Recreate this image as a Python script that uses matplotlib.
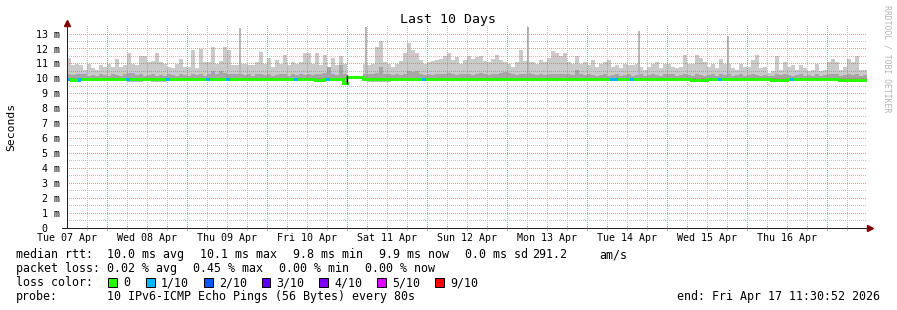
import numpy as np
import matplotlib
matplotlib.use('Agg')
import matplotlib.pyplot as plt
import matplotlib.transforms as mtransforms
from matplotlib.collections import LineCollection
from matplotlib.patches import Rectangle

# smokeping columns, 200 columns over 10 days (values in ms)
rtt_max = [
    11.4, 10.9, 11.0, 10.9, 10.6, 11.0, 10.7, 10.6, 10.9, 10.8, 11.0, 10.8, 11.3, 10.8, 10.9, 11.75, 11.0, 10.9, 11.5, 11.55,
    11.1, 11.2, 11.7, 11.1, 11.0, 10.8, 10.7, 11.0, 11.3, 10.8, 10.8, 11.9, 10.7, 12.0, 11.1, 11.1, 12.1, 11.0, 11.2, 12.1,
    11.9, 10.9, 10.9, 11.0, 11.0, 10.9, 10.9, 11.15, 11.8, 11.0, 11.4, 10.8, 11.25, 11.0, 11.6, 10.9, 11.15, 11.0, 11.15, 11.7,
    11.75, 11.0, 11.7, 10.9, 11.6, 10.8, 11.4, 10.9, 11.5, 11.0, np.nan, np.nan, np.nan, np.nan, 11.0, 10.9, 11.0, 12.15, 12.5, 11.15,
    11.0, 10.8, 11.0, 11.2, 11.7, 12.4, 11.9, 11.7, 11.25, 11.0, 11.15, 11.2, 11.25, 11.35, 11.5, 11.7, 11.25, 11.45, 11.0, 11.25,
    11.5, 11.35, 11.45, 11.5, 11.2, 11.15, 11.3, 11.6, 11.25, 11.1, 11.0, 10.8, 11.1, 11.9, 11.2, 11.1, 11.15, 11.0, 11.25, 11.15,
    11.4, 11.85, 11.75, 11.5, 11.7, 11.1, 11.0, 11.5, 11.0, 11.15, 10.9, 11.25, 10.8, 11.0, 11.15, 11.25, 10.8, 10.9, 10.7, 11.0,
    10.9, 10.9, 11.0, 10.8, 10.6, 10.8, 11.0, 11.15, 10.7, 11.0, 11.0, 10.8, 10.7, 10.8, 11.6, 11.0, 11.0, 11.6, 11.4, 11.1,
    10.8, 11.0, 10.7, 11.35, 11.0, 11.0, 10.7, 10.6, 11.0, 10.8, 10.8, 11.25, 11.6, 10.7, 10.8, 10.4, 10.5, 11.5, 10.6, 11.15,
    10.8, 10.9, 10.6, 10.9, 10.7, 10.5, 10.6, 11.0, 10.5, 10.6, 11.15, 11.35, 11.1, 10.6, 10.8, 11.3, 11.15, 11.5, 10.6, 10.6,
]
rtt_inner = [
    10.3, 10.25, 10.3, 10.35, 10.3, 10.2, 10.25, 10.2, 10.3, 10.25, 10.2, 10.3, 10.25, 10.2, 10.3, 10.4, 10.4, 10.25, 10.3, 10.2,
    10.25, 10.3, 10.2, 10.25, 10.2, 10.3, 10.25, 10.2, 10.3, 10.25, 10.2, 10.3, 10.25, 10.35, 10.2, 10.3, 10.5, 10.3, 10.55, 10.4,
    10.35, 10.3, 10.35, 10.3, 10.25, 10.3, 10.2, 10.3, 10.35, 10.25, 10.3, 10.2, 10.25, 10.3, 10.35, 10.2, 10.3, 10.25, 10.3, 10.25,
    10.3, 10.25, 10.35, 10.3, 10.4, 10.8, 10.3, 10.25, 10.9, 10.3, np.nan, np.nan, np.nan, np.nan, 10.3, 10.35, 10.3, 10.4, 10.8, 10.35,
    10.3, 10.25, 10.3, 10.25, 10.35, 10.5, 10.45, 10.5, 10.3, 10.25, 10.3, 10.25, 10.3, 10.35, 10.3, 10.4, 10.3, 10.25, 10.3, 10.35,
    10.3, 10.25, 10.3, 10.4, 10.3, 10.25, 10.3, 10.35, 10.4, 10.45, 10.4, 10.3, 10.25, 10.35, 10.3, 10.4, 10.3, 10.25, 10.3, 10.25,
    10.35, 10.35, 10.3, 10.35, 10.3, 10.3, 10.25, 10.6, 10.3, 10.25, 10.3, 10.25, 10.2, 10.25, 10.3, 10.2, 10.25, 10.3, 10.2, 10.25,
    10.3, 10.2, 10.25, 10.3, 10.2, 10.25, 10.3, 10.25, 10.2, 10.3, 10.35, 10.3, 10.2, 10.25, 10.3, 10.25, 10.2, 10.3, 10.25, 10.2,
    10.25, 10.3, 10.2, 10.3, 10.25, 10.35, 10.2, 10.25, 10.3, 10.2, 10.25, 10.3, 10.25, 10.2, 10.25, 10.2, 10.2, 10.3, 10.25, 10.35,
    10.25, 10.2, 10.25, 10.3, 10.2, 10.25, 10.2, 10.3, 10.2, 10.25, 10.3, 10.35, 10.3, 10.2, 10.25, 10.3, 10.25, 10.3, 10.2, 10.25,
]
rtt_median = [
    10.0, 9.95, 9.95, 10.0, 10.0, 10.0, 10.0, 10.0, 10.0, 10.0, 10.0, 10.0, 10.0, 10.0, 10.0, 9.98, 10.0, 10.0, 10.0, 10.0,
    10.0, 9.97, 9.97, 10.0, 10.0, 10.0, 10.0, 10.0, 10.0, 10.0, 10.0, 10.0, 10.0, 10.0, 10.0, 10.0, 10.0, 10.0, 10.0, 10.0,
    10.0, 10.0, 10.0, 10.0, 10.0, 10.0, 10.0, 10.0, 10.0, 10.0, 10.0, 10.0, 10.0, 10.0, 10.0, 10.0, 10.0, 9.97, 10.0, 10.0,
    10.0, 10.0, 9.95, 9.95, 10.0, 10.0, 10.0, 10.0, 10.0, 9.75, 10.15, 10.15, 10.15, 10.15, 10.0, 9.97, 9.97, 9.97, 9.97, 10.0,
    10.0, 10.0, 10.0, 10.0, 10.0, 10.0, 10.0, 10.0, 10.0, 10.0, 10.0, 10.0, 10.0, 10.0, 10.0, 10.0, 10.0, 10.0, 10.0, 10.0,
    10.0, 10.0, 10.0, 10.0, 10.0, 10.0, 10.0, 10.0, 10.0, 10.0, 10.0, 10.0, 10.0, 10.0, 10.0, 10.0, 10.0, 10.0, 10.0, 10.0,
    10.0, 10.0, 10.0, 10.0, 10.0, 10.0, 10.0, 10.0, 10.0, 10.0, 10.0, 10.0, 10.0, 10.0, 10.0, 10.0, 9.97, 9.97, 10.0, 10.0,
    10.0, 10.0, 10.0, 10.0, 10.0, 10.0, 10.0, 10.0, 10.0, 10.0, 10.0, 10.0, 10.0, 10.0, 10.0, 10.0, 9.95, 9.95, 9.95, 9.95,
    10.0, 10.0, 10.0, 10.0, 10.0, 10.0, 10.0, 10.0, 10.0, 10.0, 10.0, 10.0, 10.0, 10.0, 10.0, 10.0, 9.93, 9.93, 9.93, 9.93,
    10.0, 10.0, 10.0, 10.0, 10.0, 10.0, 10.0, 10.0, 10.0, 10.0, 10.0, 10.0, 10.0, 9.93, 9.93, 9.93, 9.93, 9.93, 9.93, 9.93,
]
rtt_min = [
    9.88, 9.88, 9.88, 9.82, 9.82, 9.82, 9.88, 9.88, 9.88, 9.88, 9.88, 9.88, 9.88, 9.88, 9.88, 9.8, 9.8, 9.8, 9.8, 9.88,
    9.88, 9.8, 9.8, 9.8, 9.8, 9.88, 9.88, 9.88, 9.88, 9.88, 9.88, 9.88, 9.88, 9.88, 9.88, 9.88, 9.88, 9.88, 9.88, 9.88,
    9.88, 9.88, 9.88, 9.88, 9.88, 9.88, 9.88, 9.88, 9.88, 9.88, 9.88, 9.88, 9.88, 9.88, 9.88, 9.88, 9.88, 9.88, 9.88, 9.88,
    9.88, 9.88, 9.8, 9.8, 9.8, 9.88, 9.88, 9.88, 9.88, 9.7, np.nan, np.nan, np.nan, np.nan, 9.88, 9.8, 9.8, 9.8, 9.8, 9.8,
    9.8, 9.88, 9.88, 9.88, 9.88, 9.88, 9.88, 9.88, 9.88, 9.88, 9.88, 9.88, 9.88, 9.88, 9.88, 9.88, 9.88, 9.88, 9.88, 9.88,
    9.88, 9.88, 9.88, 9.88, 9.88, 9.88, 9.88, 9.88, 9.88, 9.88, 9.88, 9.88, 9.88, 9.88, 9.88, 9.88, 9.88, 9.88, 9.88, 9.88,
    9.88, 9.88, 9.88, 9.88, 9.88, 9.88, 9.88, 9.88, 9.88, 9.88, 9.88, 9.88, 9.88, 9.88, 9.88, 9.88, 9.88, 9.88, 9.88, 9.88,
    9.88, 9.88, 9.88, 9.88, 9.88, 9.88, 9.88, 9.88, 9.88, 9.88, 9.88, 9.88, 9.88, 9.88, 9.88, 9.88, 9.8, 9.8, 9.8, 9.8,
    9.88, 9.88, 9.88, 9.88, 9.88, 9.88, 9.88, 9.88, 9.88, 9.88, 9.88, 9.88, 9.88, 9.88, 9.88, 9.88, 9.8, 9.8, 9.8, 9.8,
    9.88, 9.88, 9.88, 9.88, 9.88, 9.88, 9.88, 9.88, 9.88, 9.88, 9.88, 9.88, 9.88, 9.8, 9.8, 9.8, 9.8, 9.8, 9.8, 9.8,
]
# columns with 1/10 packet loss
loss_1_cols = [0, 3, 15, 25, 35, 40, 57, 65, 89, 136, 137, 141, 163, 181]

# single-sample spikes (day offset from Apr 7 00:00, max rtt ms)
spike_day = [2.66, 4.24, 6.26, 7.65, 8.76]
spike_max = [13.4, 13.45, 13.45, 13.2, 12.85]

day_labels = ['Tue 07 Apr', 'Wed 08 Apr', 'Thu 09 Apr', 'Fri 10 Apr', 'Sat 11 Apr',
              'Sun 12 Apr', 'Mon 13 Apr', 'Tue 14 Apr', 'Wed 15 Apr', 'Thu 16 Apr']
y_labels = ['0', '1 m', '2 m', '3 m', '4 m', '5 m', '6 m', '7 m', '8 m', '9 m',
            '10 m', '11 m', '12 m', '13 m']

legend_rtt = [('median rtt:', 16), ('10.0 ms avg', 107), ('10.1 ms max', 200),
              ('9.8 ms min', 293), ('9.9 ms now', 379), ('0.0 ms sd', 465),
              ('291.2', 532), ('am/s', 599)]
legend_loss = [('packet loss:', 16), ('0.02 % avg', 107), ('0.45 % max', 193),
               ('0.00 % min', 279), ('0.00 % now', 365)]
loss_names = ['0', '1/10', '2/10', '3/10', '4/10', '5/10', '9/10']
loss_colors = ['#26ff00', '#00b8ff', '#0059ff', '#5e00ff', '#7e00ff', '#dd00ff', '#ff0000']
probe_text = '10 IPv6-ICMP Echo Pings (56 Bytes) every 80s'
end_text = 'end: Fri Apr 17 11:30:52 2026'

MONO = 'DejaVu Sans Mono'
GRID = (0.5, 0.5, 0.5, 0.5)
MGRID = (0.87, 0.31, 0.31, 0.6)
W, H = 897, 310
X0, Y0 = 67, 228              # plot origin in pixels (from top-left)
PLOT_W, PLOT_H = 800, 202
PX_PER_MS = 194 / 13
YTOP = PLOT_H / PX_PER_MS
rect = [X0 / W, 1 - Y0 / H, PLOT_W / W, PLOT_H / H]

fig = plt.figure(figsize=(W / 100, H / 100), dpi=100)
fig.patch.set_facecolor('white')

# bottom layer: smoke
ax = fig.add_axes(rect, zorder=0)
ax.axis('off')
ax.set_xlim(0.5, 10.5)
ax.set_ylim(0, YTOP)

n = len(rtt_max)
w = 10.0 / n
t = 0.5 + w * np.arange(n)
mx = np.array(rtt_max)
inner = np.array(rtt_inner)
med = np.array(rtt_median)
mn = np.array(rtt_min)
ok = ~np.isnan(mx)

kw = dict(width=w, align='edge', linewidth=0, antialiased=False)
ax.bar(t[ok], (med - mn)[ok], bottom=mn[ok], color='#bdbdbd', **kw)
ax.bar(t[ok], (inner - med)[ok], bottom=med[ok], color='#a6a6a6', **kw)
ax.bar(t[ok], (mx - inner)[ok], bottom=inner[ok], color='#cacaca', **kw)
ax.bar(spike_day, np.array(spike_max) - 10.3, bottom=10.3, width=0.02,
       color='#b8b8b8', linewidth=0, antialiased=False)

# middle layer: dotted rrdtool-style grid, drawn pixel-exact (1 px on, 1 px off)
grid = np.zeros((PLOT_H, PLOT_W, 4))
for v in np.arange(0.5, 13.01, 0.5):
    row = int(PLOT_H - v * PX_PER_MS)
    grid[row, ::2] = MGRID if v == int(v) else GRID
for d in np.arange(0.75, 10.5, 0.25):
    col = int(round((d - 0.5) * 80))
    grid[::2, col] = MGRID if d == int(d) else GRID
fig.figimage(grid, xo=X0, yo=H - Y0, origin='upper', zorder=1)

# top layer: median line, axes, labels
ax2 = fig.add_axes(rect, zorder=2)
ax2.axis('off')
ax2.set_xlim(0.5, 10.5)
ax2.set_ylim(0, YTOP)

segs, cols, gap_edges = [], [], []
for i in range(n):
    c = loss_colors[1] if i in loss_1_cols else loss_colors[0]
    segs.append([(t[i], med[i]), (t[i] + w, med[i])])
    cols.append(c)
    if i > 0 and med[i] != med[i - 1]:
        if ok[i] != ok[i - 1]:
            gap_edges.append([(t[i], med[i - 1] - 0.08), (t[i], med[i] + 0.08)])
        else:
            segs.append([(t[i], med[i - 1]), (t[i], med[i])])
            cols.append(c)
ax2.add_collection(LineCollection(segs, colors=cols, linewidths=2.16,
                                  capstyle='projecting', zorder=3))
ax2.add_collection(LineCollection(gap_edges, colors='black', linewidths=1.0, zorder=4))

ax2.plot([0.4375, 10.5375], [0, 0], color='#202020', lw=0.72, clip_on=False, zorder=4)
ax2.plot([0.5, 0.5], [0, 13.75], color='#202020', lw=0.72, clip_on=False, zorder=4)
ax2.plot(0.5, 13.72, marker='^', ms=4.5, color='#7f0000', clip_on=False, zorder=5)
ax2.plot(10.5375, 0, marker='>', ms=4.5, color='#7f0000', clip_on=False, zorder=5)
for d in np.arange(0.75, 10.5, 0.25):
    ax2.plot([d, d], [-0.13, 0.13], color=MGRID if d == int(d) else GRID,
             lw=0.72, clip_on=False, zorder=4)

xtr = mtransforms.offset_copy(ax2.get_xaxis_transform(), fig=fig, y=-13, units='dots')
for k, lab in enumerate(day_labels):
    ax2.text(k + 0.5, 0, lab, transform=xtr, ha='center', va='baseline',
             family=MONO, fontsize=7.2)
ytr = mtransforms.offset_copy(ax2.get_yaxis_transform(), fig=fig, x=-7, y=-3.6, units='dots')
ytr0 = mtransforms.offset_copy(ax2.get_yaxis_transform(), fig=fig, x=-20, y=-3.6, units='dots')
for k, lab in enumerate(y_labels):
    ax2.text(0, k, lab, transform=ytr0 if k == 0 else ytr, ha='right', va='baseline',
             family=MONO, fontsize=7.2)

# text in pixel coordinates
px = mtransforms.Affine2D().scale(1 / W, -1 / H).translate(0, 1) + fig.transFigure
fig.text(447.5, 23.5, 'Last 10 Days', transform=px, ha='center', va='baseline',
         family=MONO, fontsize=9.5)
fig.text(11.5, 126.5, 'Seconds', transform=px, ha='center', va='center',
         rotation=90, family=MONO, fontsize=8.2)
fig.text(887.5, 59, 'RRDTOOL / TOBI OETIKER', transform=px, ha='center', va='center',
         rotation=270, family=MONO, fontsize=5.9, color='#b4b4b4')

LF = 8.4
for s, x in legend_rtt:
    fig.text(x, 258.3, s, transform=px, ha='left', va='baseline', family=MONO, fontsize=LF)
for s, x in legend_loss:
    fig.text(x, 272.3, s, transform=px, ha='left', va='baseline', family=MONO, fontsize=LF)
fig.text(16, 286.3, 'loss color:', transform=px, ha='left', va='baseline', family=MONO, fontsize=LF)
box_x = [108, 146, 204, 261.5, 319, 377, 435]
for name, c, bx in zip(loss_names, loss_colors, box_x):
    fig.add_artist(Rectangle((bx, 278), 8.5, 8.5, transform=px, facecolor=c,
                             edgecolor='black', lw=0.72))
    fig.text(bx + 15, 286.3, name, transform=px, ha='left', va='baseline',
             family=MONO, fontsize=LF)
fig.text(16, 300.3, 'probe:', transform=px, ha='left', va='baseline', family=MONO, fontsize=LF)
fig.text(107, 300.3, probe_text, transform=px, ha='left', va='baseline', family=MONO, fontsize=LF)
fig.text(880, 300.3, end_text, transform=px, ha='right', va='baseline', family=MONO, fontsize=LF)

fig.savefig('out.png', dpi=100, facecolor='white')
